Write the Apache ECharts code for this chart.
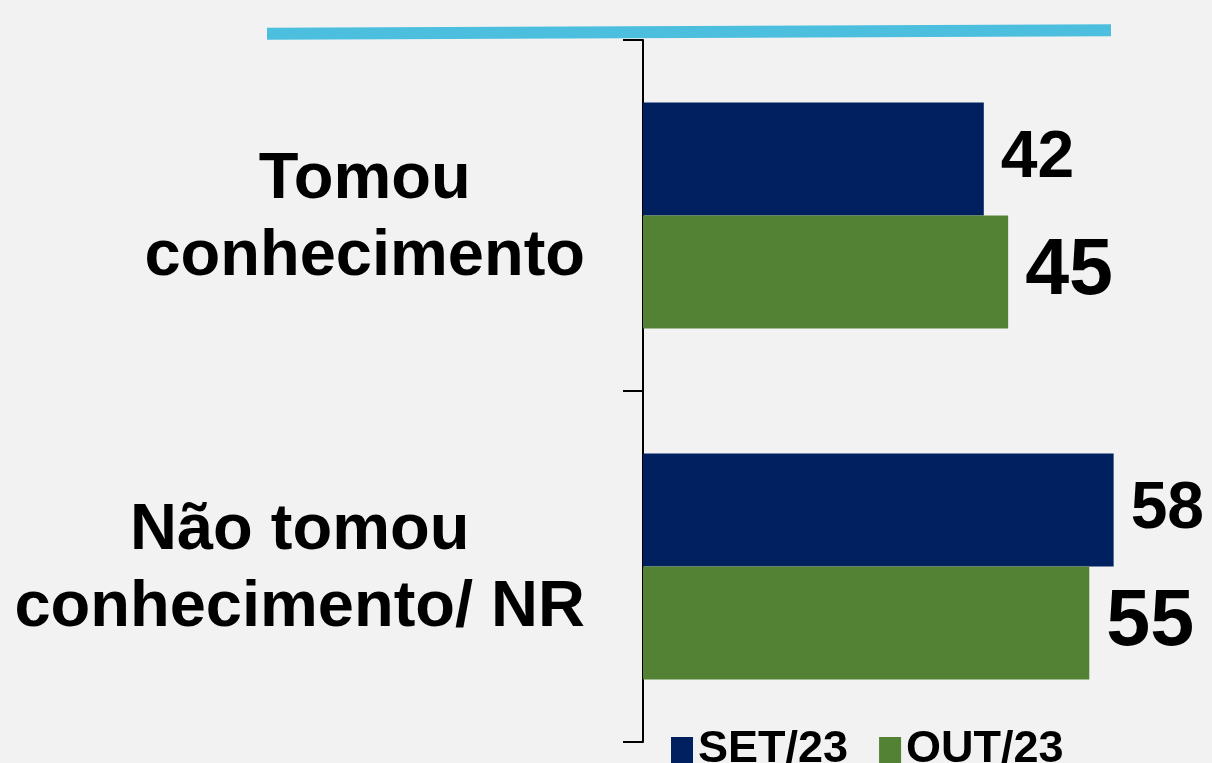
<!DOCTYPE html>
<html><head><meta charset="utf-8">
<script src="https://cdn.jsdelivr.net/npm/echarts@6/dist/echarts.min.js"></script>
<style>html,body{margin:0;padding:0;background:#f2f2f2;}#c{width:1212px;height:763px;}</style>
</head><body><div id="c"></div>
<script>
const categories = ['Tomou\nconhecimento', 'Não tomou\nconhecimento/ NR'];
const seriesNames = ['SET/23', 'OUT/23'];
const setValues = [42, 58];
const outValues = [45, 55];

const chart = echarts.init(document.getElementById('c'));
const FONT = '"Liberation Sans", Arial, sans-serif';
chart.setOption({
  backgroundColor: '#f2f2f2',
  animation: false,
  graphic: [{
    type: 'line', silent: true,
    shape: { x1: 267, y1: 33.7, x2: 1111, y2: 30.3 },
    style: { stroke: '#4cbfdf', lineWidth: 12 }
  }],
  legend: {
    data: seriesNames,
    left: 666, top: 716,
    icon: 'rect', itemWidth: 22, itemHeight: 26, itemGap: 31,
    textStyle: { fontFamily: FONT, fontWeight: 'bold', fontSize: 45, color: '#000', padding: [0, 0, 12, 0], lineHeight: 46 }
  },
  grid: { left: 643, right: 1, top: 40, bottom: 21, containLabel: false },
  xAxis: { type: 'value', min: 0, max: 70, show: false },
  yAxis: {
    type: 'category', data: categories, inverse: true,
    axisLine: { show: true, lineStyle: { color: '#000', width: 2 } },
    axisTick: { show: true, length: 20, lineStyle: { color: '#000', width: 2 } },
    axisLabel: {
      margin: 58,
      padding: [6, 0, 0, 0],
      formatter: function (v) { return v.split('\n').map(function (s) { return '{c|' + s + '}'; }).join('\n'); },
      rich: { c: { align: 'center', fontFamily: FONT, fontWeight: 'bold', fontSize: 65, lineHeight: 77, color: '#000' } }
    }
  },
  series: [
    {
      name: seriesNames[0], type: 'bar', data: setValues, barWidth: 113, barGap: '0%',
      itemStyle: { color: '#002060' },
      label: { show: true, position: 'right', distance: 17, fontFamily: FONT, fontWeight: 'bold', fontSize: 66, color: '#000' }
    },
    {
      name: seriesNames[1], type: 'bar', data: outValues, barWidth: 113, barGap: '0%',
      itemStyle: { color: '#548235' },
      label: { show: true, position: 'right', distance: 17, fontFamily: FONT, fontWeight: 'bold', fontSize: 79, color: '#000' }
    }
  ]
});
</script></body></html>
